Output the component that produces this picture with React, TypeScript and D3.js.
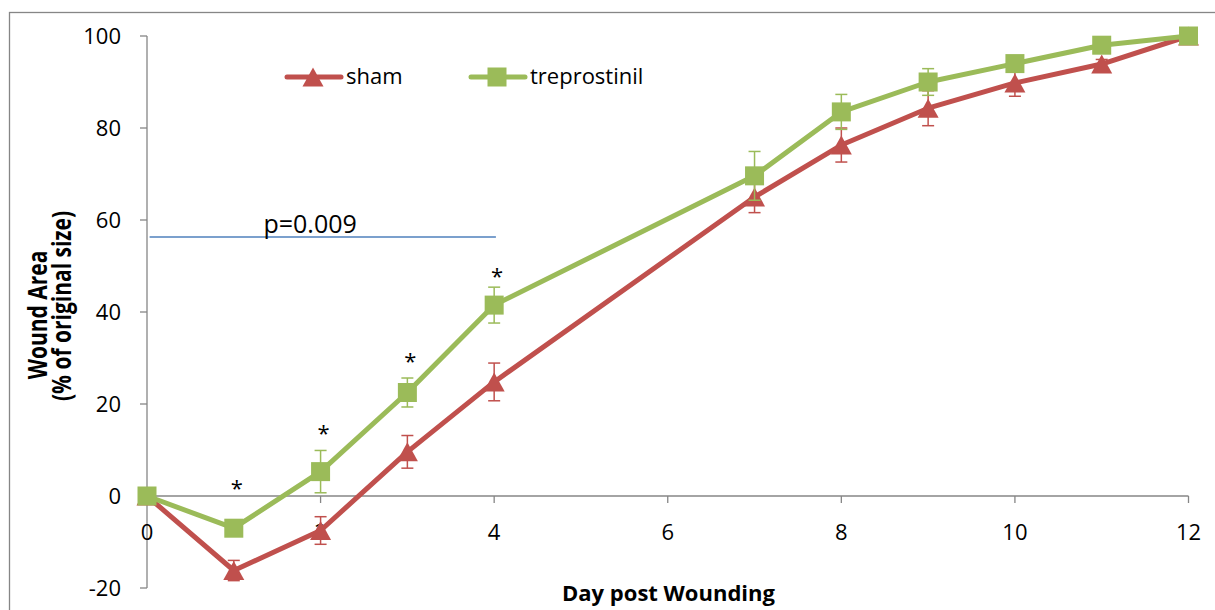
import React from "react";
import * as d3 from "d3";

const days = [0, 1, 2, 3, 4, 7, 8, 9, 10, 11, 12];
const sham = [0, -16.2, -7.5, 9.6, 24.8, 65.0, 76.3, 84.3, 89.8, 93.9, 100];
const shamErr = [0, 2.2, 3.0, 3.55, 4.1, 3.4, 3.7, 3.8, 2.9, 1.0, 0];
const trep = [0, -7.0, 5.3, 22.5, 41.5, 69.6, 83.5, 90.0, 94.0, 98.0, 100];
const trepErr = [0, 1.5, 4.6, 3.15, 3.9, 5.3, 3.8, 2.9, 1.5, 0.8, 0];

const xTicks = [0, 2, 4, 6, 8, 10, 12];
const yTicks = [-20, 0, 20, 40, 60, 80, 100];

const starDays = [1, 2, 3, 4];
const starValues = [2.6, 14.5, 30.2, 48.7];

const pLineValue = 56.3;
const pLineFrom = 0.03;
const pLineTo = 4.02;
const pText = "p=0.009";
const pTextDay = 1.88;

const seriesNames = ["sham", "treprostinil"];
const RED = "#C0504D";
const GREEN = "#9BBB59";
const AXIS = "#868686";
const FONT = "'Open Sans', sans-serif";

export default function App() {
  const x = d3.scaleLinear().domain([0, 12]).range([147, 1188.5]);
  const y = d3.scaleLinear().domain([-20, 100]).range([588, 36]);

  const mk = (vals: number[]) =>
    d3
      .line<number>()
      .x((_, i) => x(days[i]))
      .y((v) => y(v))(vals) as string;

  const tri = (cx: number, cy: number) =>
    `M${cx},${cy - 9.5}L${cx + 10.5},${cy + 9.5}L${cx - 10.5},${cy + 9.5}Z`;

  const errBars = (vals: number[], errs: number[], color: string) =>
    vals.map((v, i) =>
      errs[i] > 0 ? (
        <g key={i} stroke={color} strokeWidth={1.5}>
          <line x1={x(days[i])} x2={x(days[i])} y1={y(v - errs[i])} y2={y(v + errs[i])} />
          <line x1={x(days[i]) - 6} x2={x(days[i]) + 6} y1={y(v - errs[i])} y2={y(v - errs[i])} />
          <line x1={x(days[i]) - 6} x2={x(days[i]) + 6} y1={y(v + errs[i])} y2={y(v + errs[i])} />
        </g>
      ) : null
    );

  return (
    <svg
      width={1215}
      height={610}
      style={{ position: "absolute", left: 0, top: 0, background: "#fff" }}
      fontFamily={FONT}
    >
      <rect x={9.5} y={12.5} width={1240} height={640} fill="none" stroke={AXIS} strokeWidth={1.3} />

      {/* y axis */}
      <line x1={147} x2={147} y1={y(100)} y2={y(-20)} stroke={AXIS} strokeWidth={1.3} />
      {yTicks.map((t) => (
        <g key={t}>
          <line x1={140} x2={147} y1={y(t)} y2={y(t)} stroke={AXIS} strokeWidth={1.3} />
          <text x={121} y={y(t)} dy="0.36em" textAnchor="end" fontSize={22} fill="#000">
            {t}
          </text>
        </g>
      ))}

      {/* x axis */}
      <line x1={x(0)} x2={x(12)} y1={y(0)} y2={y(0)} stroke={AXIS} strokeWidth={1.3} />
      {xTicks.map((t) => (
        <g key={t}>
          <line x1={x(t)} x2={x(t)} y1={y(0)} y2={y(0) + 7} stroke={AXIS} strokeWidth={1.3} />
          <text x={x(t)} y={532} dy="0.36em" textAnchor="middle" fontSize={22} fill="#000">
            {t}
          </text>
        </g>
      ))}

      {/* p-value line */}
      <line
        x1={x(pLineFrom)}
        x2={x(pLineTo)}
        y1={y(pLineValue)}
        y2={y(pLineValue)}
        stroke="#4F81BD"
        strokeWidth={1.5}
      />
      <text x={x(pTextDay)} y={y(pLineValue) - 4} textAnchor="middle" fontSize={25} fill="#000">
        {pText}
      </text>

      {/* sham */}
      <path d={mk(sham)} fill="none" stroke={RED} strokeWidth={5} strokeLinejoin="round" />
      {errBars(sham, shamErr, RED)}
      {sham.map((v, i) => (
        <path key={i} d={tri(x(days[i]), y(v))} fill={RED} />
      ))}

      {/* treprostinil */}
      <path d={mk(trep)} fill="none" stroke={GREEN} strokeWidth={5} strokeLinejoin="round" />
      {errBars(trep, trepErr, GREEN)}
      {trep.map((v, i) => (
        <rect key={i} x={x(days[i]) - 9.5} y={y(v) - 9.5} width={19} height={19} fill={GREEN} />
      ))}

      {/* asterisks */}
      {starDays.map((d, i) => (
        <text key={d} x={x(d) + 3} y={y(starValues[i]) + 12} textAnchor="middle" fontSize={22} fill="#000">
          *
        </text>
      ))}

      {/* legend */}
      <line x1={287} x2={341} y1={77} y2={77} stroke={RED} strokeWidth={5} strokeLinecap="round" />
      <path d={tri(313, 77)} fill={RED} />
      <text x={346} y={84} fontSize={22} fill="#000">
        {seriesNames[0]}
      </text>
      <line x1={471} x2={525} y1={77} y2={77} stroke={GREEN} strokeWidth={5} strokeLinecap="round" />
      <rect x={497 - 9.5} y={77 - 9.5} width={19} height={19} fill={GREEN} />
      <text x={530} y={84} fontSize={22} fill="#000">
        {seriesNames[1]}
      </text>

      {/* axis titles */}
      <text
        transform="translate(47,315) rotate(-90) scale(1,1.3)"
        textAnchor="middle"
        fontSize={21}
        fontWeight="bold"
        fill="#000"
      >
        Wound Area
      </text>
      <text
        transform="translate(71,306) rotate(-90) scale(1,1.3)"
        textAnchor="middle"
        fontSize={21}
        fontWeight="bold"
        fill="#000"
      >
        (% of original size)
      </text>
      <text x={668.5} y={601} textAnchor="middle" fontSize={22} fontWeight="bold" fill="#000">
        Day post Wounding
      </text>
    </svg>
  );
}
